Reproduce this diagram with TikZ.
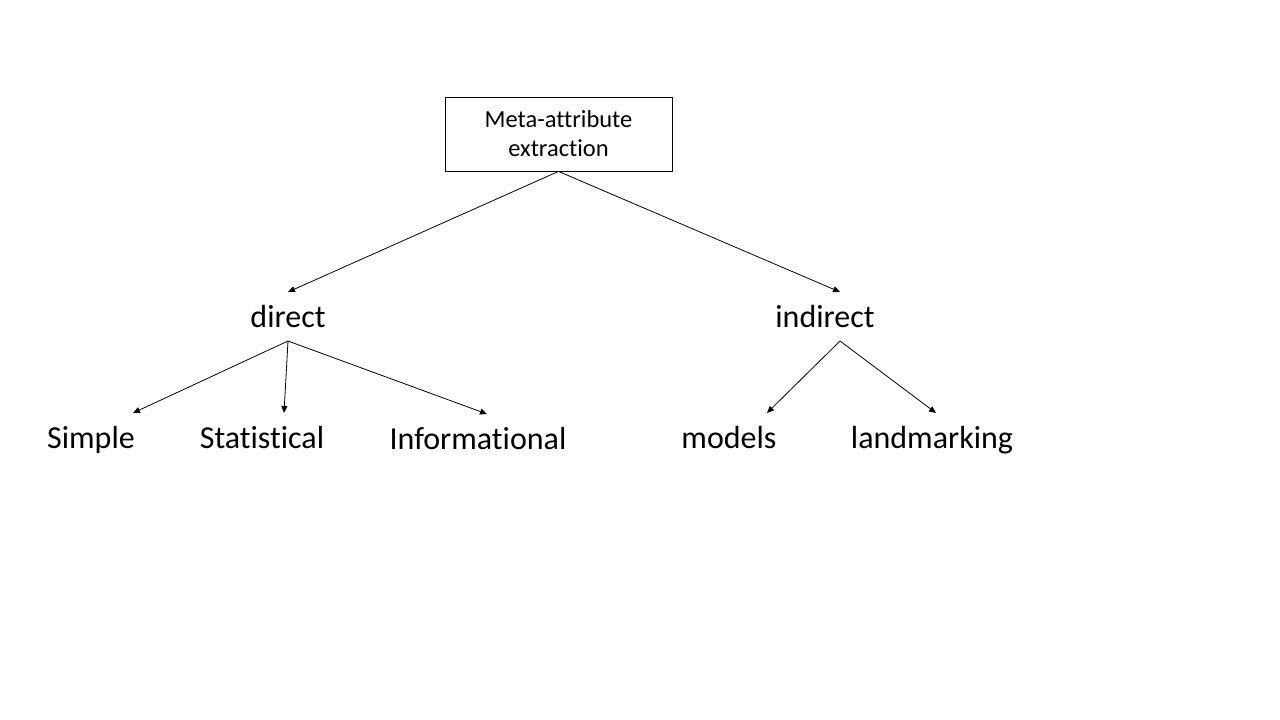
\documentclass[tikz,border=0pt]{standalone}
\usepackage{fontspec}
\setmainfont{Carlito}[Ligatures={NoCommon}]
\usetikzlibrary{arrows.meta}
\begin{document}
\begin{tikzpicture}[x=1pt,y=-1pt,
  lbl/.style={font=\fontsize{32}{36}\selectfont, inner sep=0pt, anchor=base},
  conn/.style={-{Triangle[length=7pt,width=6pt]}, line width=0.8pt}]
\useasboundingbox[fill=white] (0,0) rectangle (1280,720);
\node[draw, line width=0.8pt, minimum width=227pt, minimum height=74pt, inner sep=0pt,
  align=center, font=\fontsize{24.5}{29}\selectfont] (box) at (558.5,134) {Meta-attribute\\extraction};
\node[lbl] (direct) at (288,327) {direct};
\node[lbl] (indirect) at (825,327) {indirect};
\node[lbl] (simple) at (91,448) {Simple};
\node[lbl] (stat) at (262,448) {Statistical};
\node[lbl] (info) at (478,449) {Informational};
\node[lbl] (models) at (729,448) {models};
\node[lbl] (land) at (932,448) {landmarking};
\coordinate (dIn) at (288,292);
\coordinate (iIn) at (840,292);
\coordinate (dOut) at (288,341);
\coordinate (iOut) at (840,341);
\coordinate (sIn) at (133,413);
\coordinate (stIn) at (284,413);
\coordinate (infIn) at (487,414);
\coordinate (mIn) at (767,413);
\coordinate (lIn) at (936,413);
\draw[conn] (box.south) -- (dIn);
\draw[conn] (box.south) -- (iIn);
\draw[conn] (dOut) -- (sIn);
\draw[conn] (dOut) -- (stIn);
\draw[conn] (dOut) -- (infIn);
\draw[conn] (iOut) -- (mIn);
\draw[conn] (iOut) -- (lIn);
\end{tikzpicture}
\end{document}
